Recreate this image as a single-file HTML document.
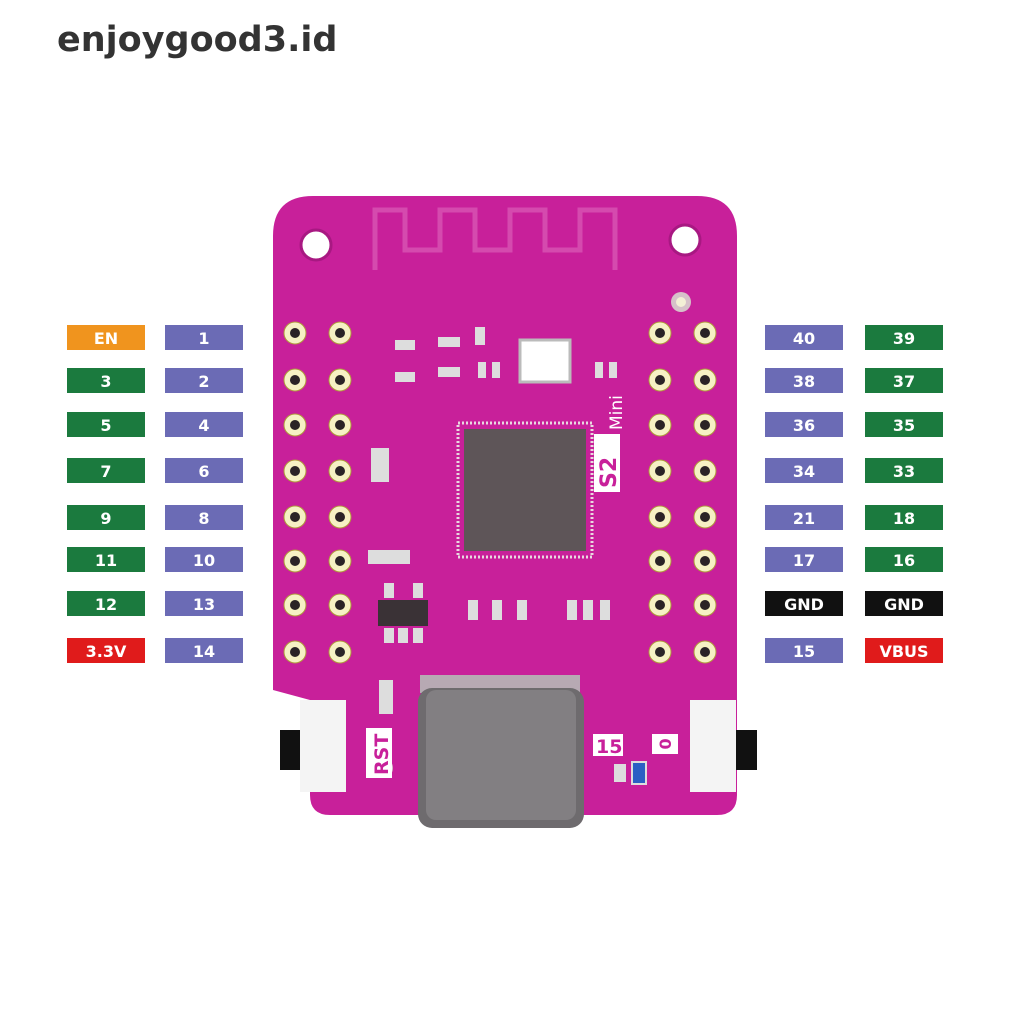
<!DOCTYPE html>
<html><head><meta charset="utf-8"><style>
body{margin:0;width:1024px;height:1024px;background:#fff;overflow:hidden;font-family:"DejaVu Sans","Liberation Sans",sans-serif}
</style></head><body>
<svg width="1024" height="1024" viewBox="0 0 1024 1024" xmlns="http://www.w3.org/2000/svg">
<text x="57" y="51" font-family="DejaVu Sans, sans-serif" font-weight="bold" font-size="35" fill="#333">enjoygood3.id</text>

<!-- board -->
<path d="M313,196 H697 Q737,196 737,236 V795 Q737,815 717,815 H330 Q310,815 310,795 V700 L273,690 V236 Q273,196 313,196 Z" fill="#c8209a"/>
<!-- antenna trace -->
<path d="M375,270 V210 H405 V250 H440 V210 H475 V250 H510 V210 H545 V250 H580 V210 H615 V270" fill="none" stroke="#d54aae" stroke-width="5"/>
<circle cx="316" cy="245" r="15" fill="#fff" stroke="#a81882" stroke-width="3"/>
<circle cx="685" cy="240" r="15" fill="#fff" stroke="#a81882" stroke-width="3"/>
<circle cx="681" cy="302" r="10" fill="#d6c1c9"/><circle cx="681" cy="302" r="5" fill="#f3f0d6"/>
<circle cx="383" cy="768" r="10" fill="#d6c1c9"/><circle cx="383" cy="768" r="5" fill="#f3f0d6"/>

<!-- pins -->
<g fill="#f6f1c4" stroke="#b09a3c" stroke-width="1">
<g id="col">
<circle cx="295" cy="333" r="11"/><circle cx="295" cy="380" r="11"/><circle cx="295" cy="425" r="11"/><circle cx="295" cy="471" r="11"/><circle cx="295" cy="517" r="11"/><circle cx="295" cy="561" r="11"/><circle cx="295" cy="605" r="11"/><circle cx="295" cy="652" r="11"/>
</g>
<use href="#col" x="45"/><use href="#col" x="365"/><use href="#col" x="410"/>
</g>
<g fill="#2a2326">
<g id="hole">
<circle cx="295" cy="333" r="5"/><circle cx="295" cy="380" r="5"/><circle cx="295" cy="425" r="5"/><circle cx="295" cy="471" r="5"/><circle cx="295" cy="517" r="5"/><circle cx="295" cy="561" r="5"/><circle cx="295" cy="605" r="5"/><circle cx="295" cy="652" r="5"/>
</g>
<use href="#hole" x="45"/><use href="#hole" x="365"/><use href="#hole" x="410"/>
</g>

<!-- chip -->
<rect x="458" y="423" width="134" height="134" fill="none" stroke="#e9d8e0" stroke-width="3" stroke-dasharray="2 2"/>
<rect x="464" y="429" width="122" height="122" fill="#5e5558"/>
<rect x="520" y="340" width="50" height="42" fill="#fff" stroke="#bbb" stroke-width="3"/>
<rect x="594" y="434" width="26" height="58" fill="#fff"/>
<text x="616" y="488" transform="rotate(-90 616 488)" font-size="22" font-weight="bold" fill="#c8209a">S2</text>
<text x="622" y="430" transform="rotate(-90 622 430)" font-size="17" fill="#fff">Mini</text>

<!-- regulator -->
<rect x="378" y="600" width="50" height="26" fill="#3a3236"/>
<g fill="#ddd"><rect x="384" y="583" width="10" height="15"/><rect x="413" y="583" width="10" height="15"/><rect x="384" y="628" width="10" height="15"/><rect x="398" y="628" width="10" height="15"/><rect x="413" y="628" width="10" height="15"/>
<rect x="371" y="448" width="18" height="34"/><rect x="368" y="550" width="42" height="14"/><rect x="379" y="680" width="14" height="34"/>
<rect x="395" y="340" width="20" height="10"/><rect x="395" y="372" width="20" height="10"/><rect x="438" y="337" width="22" height="10"/><rect x="438" y="367" width="22" height="10"/><rect x="475" y="327" width="10" height="18"/><rect x="478" y="362" width="8" height="16"/><rect x="492" y="362" width="8" height="16"/><rect x="595" y="362" width="8" height="16"/><rect x="609" y="362" width="8" height="16"/>
<rect x="468" y="600" width="10" height="20"/><rect x="492" y="600" width="10" height="20"/><rect x="517" y="600" width="10" height="20"/><rect x="567" y="600" width="10" height="20"/><rect x="583" y="600" width="10" height="20"/><rect x="600" y="600" width="10" height="20"/><rect x="614" y="764" width="12" height="18"/></g>
<rect x="632" y="762" width="14" height="22" fill="#2b5fc4" stroke="#ddd" stroke-width="2"/>

<!-- USB-C -->
<rect x="420" y="675" width="160" height="18" fill="#b7a9b3"/>
<rect x="418" y="688" width="166" height="140" rx="14" fill="#6e6b6e"/>
<rect x="426" y="690" width="150" height="130" rx="10" fill="#827f82"/>

<!-- buttons -->
<rect x="280" y="730" width="22" height="40" fill="#111"/>
<rect x="300" y="700" width="46" height="92" fill="#f4f4f4"/>
<rect x="735" y="730" width="22" height="40" fill="#111"/>
<rect x="690" y="700" width="46" height="92" fill="#f4f4f4"/>
<rect x="366" y="728" width="26" height="50" fill="#fff"/>
<text x="388" y="775" transform="rotate(-90 388 775)" font-size="19" font-weight="bold" fill="#c8209a">RST</text>
<rect x="593" y="734" width="30" height="22" fill="#fff"/>
<text x="596" y="753" font-size="19" font-weight="bold" fill="#c8209a">15</text>
<rect x="652" y="734" width="26" height="20" fill="#fff"/>
<text x="665" y="744" transform="rotate(90 665 744)" text-anchor="middle" dominant-baseline="central" font-size="16" font-weight="bold" fill="#c8209a">0</text>

<!-- labels -->
<g font-size="16" font-weight="bold" fill="#fff" text-anchor="middle">
<rect x="67" y="325" width="78" height="25" fill="#f0941e"/><text x="106" y="344">EN</text>
<rect x="67" y="368" width="78" height="25" fill="#1b7a3e"/><text x="106" y="387">3</text>
<rect x="67" y="412" width="78" height="25" fill="#1b7a3e"/><text x="106" y="431">5</text>
<rect x="67" y="458" width="78" height="25" fill="#1b7a3e"/><text x="106" y="477">7</text>
<rect x="67" y="505" width="78" height="25" fill="#1b7a3e"/><text x="106" y="524">9</text>
<rect x="67" y="547" width="78" height="25" fill="#1b7a3e"/><text x="106" y="566">11</text>
<rect x="67" y="591" width="78" height="25" fill="#1b7a3e"/><text x="106" y="610">12</text>
<rect x="67" y="638" width="78" height="25" fill="#e01b1b"/><text x="106" y="657">3.3V</text>

<rect x="165" y="325" width="78" height="25" fill="#6b6bb5"/><text x="204" y="344">1</text>
<rect x="165" y="368" width="78" height="25" fill="#6b6bb5"/><text x="204" y="387">2</text>
<rect x="165" y="412" width="78" height="25" fill="#6b6bb5"/><text x="204" y="431">4</text>
<rect x="165" y="458" width="78" height="25" fill="#6b6bb5"/><text x="204" y="477">6</text>
<rect x="165" y="505" width="78" height="25" fill="#6b6bb5"/><text x="204" y="524">8</text>
<rect x="165" y="547" width="78" height="25" fill="#6b6bb5"/><text x="204" y="566">10</text>
<rect x="165" y="591" width="78" height="25" fill="#6b6bb5"/><text x="204" y="610">13</text>
<rect x="165" y="638" width="78" height="25" fill="#6b6bb5"/><text x="204" y="657">14</text>

<rect x="765" y="325" width="78" height="25" fill="#6b6bb5"/><text x="804" y="344">40</text>
<rect x="765" y="368" width="78" height="25" fill="#6b6bb5"/><text x="804" y="387">38</text>
<rect x="765" y="412" width="78" height="25" fill="#6b6bb5"/><text x="804" y="431">36</text>
<rect x="765" y="458" width="78" height="25" fill="#6b6bb5"/><text x="804" y="477">34</text>
<rect x="765" y="505" width="78" height="25" fill="#6b6bb5"/><text x="804" y="524">21</text>
<rect x="765" y="547" width="78" height="25" fill="#6b6bb5"/><text x="804" y="566">17</text>
<rect x="765" y="591" width="78" height="25" fill="#111"/><text x="804" y="610">GND</text>
<rect x="765" y="638" width="78" height="25" fill="#6b6bb5"/><text x="804" y="657">15</text>

<rect x="865" y="325" width="78" height="25" fill="#1b7a3e"/><text x="904" y="344">39</text>
<rect x="865" y="368" width="78" height="25" fill="#1b7a3e"/><text x="904" y="387">37</text>
<rect x="865" y="412" width="78" height="25" fill="#1b7a3e"/><text x="904" y="431">35</text>
<rect x="865" y="458" width="78" height="25" fill="#1b7a3e"/><text x="904" y="477">33</text>
<rect x="865" y="505" width="78" height="25" fill="#1b7a3e"/><text x="904" y="524">18</text>
<rect x="865" y="547" width="78" height="25" fill="#1b7a3e"/><text x="904" y="566">16</text>
<rect x="865" y="591" width="78" height="25" fill="#111"/><text x="904" y="610">GND</text>
<rect x="865" y="638" width="78" height="25" fill="#e01b1b"/><text x="904" y="657">VBUS</text>
</g>
</svg>
</body></html>
